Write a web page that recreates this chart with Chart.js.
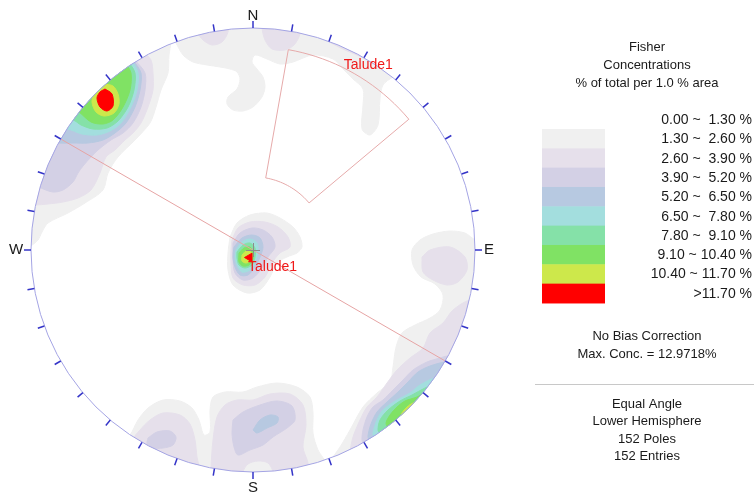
<!DOCTYPE html>
<html>
<head>
<meta charset="utf-8">
<title>Fisher Concentrations</title>
<script src="https://cdn.jsdelivr.net/npm/chart.js@4.4.1/dist/chart.umd.min.js"></script>
<style>
  html, body { margin: 0; padding: 0; background: #ffffff; }
  canvas { display: block; }
</style>
</head>
<body>
<canvas id="stereonet" width="754" height="493"></canvas>
<script>
// Contour classes, % of total per 1.0 % area
const class_labels = [
  "0.00 ~  1.30 %", "1.30 ~  2.60 %", "2.60 ~  3.90 %", "3.90 ~  5.20 %", "5.20 ~  6.50 %",
  "6.50 ~  7.80 %", "7.80 ~  9.10 %", "9.10 ~ 10.40 %", "10.40 ~ 11.70 %", ">11.70 %",
];
const class_colors = ["#f0f0f0", "#e6e0eb", "#d3d0e5", "#b7c9e1", "#a3dede", "#85e1a8", "#80e264", "#cde84b", "#ff0000"];

const summary_lines = ["No Bias Correction", "Max. Conc. = 12.9718%"];
const projection_lines = ["Equal Angle", "Lower Hemisphere", "152 Poles", "152 Entries"];

// Contour outlines in net units (primitive circle radius 222, x = east, y = north).
// Parts lying outside the primitive are clipped away.
const level_1 = [
  [[-82,230],[-82,208],[-84,195],[-85,177],[-92,160],[-97,143],[-103,127],[-118,110],[-135,93],[-145,77],[-150,60],[-168,47],[-185,37],[-205,27],[-211,18],[-215,10],[-223,4],[-238,4],[-238,210],[-153,235]],
  [[-81,235],[-81,214],[-77,207],[-70,195],[-60,188],[-46,185],[-33,183],[-23,181],[-16,178],[-13,171],[-16,161],[-25,153],[-26,146],[-20,140],[-10,139],[0,143],[9,153],[12,163],[10,173],[4,181],[-1,188],[2,195],[14,191],[27,186],[40,188],[60,195],[80,191],[90,181],[100,171],[110,161],[110,145],[109,121],[117,115],[125,125],[127,151],[130,165],[140,173],[145,175],[167,210],[0,245]],
  [[-23,13],[-16,27],[-3,35],[14,37],[27,32],[40,23],[47,13],[49,3],[44,-3],[34,-7],[24,-13],[17,-27],[7,-40],[-6,-43],[-20,-35],[-25,-20],[-25,-3]],
  [[-128,-188],[-123,-185],[-115,-170],[-105,-158],[-90,-150],[-73,-151],[-61,-158],[-54,-170],[-49,-185],[-43,-182],[-43,-160],[-40,-147],[-28,-142],[-10,-142],[4,-137],[24,-133],[44,-137],[57,-147],[60,-163],[60,-183],[65,-200],[72,-212],[72,-235],[-125,-235]],
  [[77,-240],[77,-212],[80,-207],[87,-197],[97,-180],[110,-157],[124,-143],[137,-132],[140,-117],[143,-97],[149,-83],[162,-75],[177,-68],[187,-60],[190,-45],[182,-34],[168,-27],[160,-15],[159,0],[167,10],[180,16],[197,19],[212,17],[223,10],[242,10],[242,-240]],
];
const level_2 = [
  [[-112,215],[-110,200],[-102,190],[-100,177],[-100,160],[-105,143],[-112,127],[-120,117],[-128,110],[-138,100],[-147,93],[-153,77],[-162,60],[-175,52],[-190,48],[-205,46],[-218,45],[-233,45],[-233,190]],
  [[-55,228],[-55,217],[-50,210],[-41,205],[-31,208],[-25,218],[-25,230]],
  [[9,232],[9,222],[12,210],[19,201],[32,200],[41,205],[47,216],[47,230]],
  [[77,230],[75,210],[82,205],[92,200],[104,195],[115,190],[120,188],[127,210]],
  [[-21,10],[-15,22],[-3,28],[12,28],[25,23],[35,13],[37,3],[27,-3],[19,-13],[12,-27],[2,-35],[-10,-35],[-20,-28],[-22,-13],[-22,0]],
  [[-120,-235],[-120,-190],[-113,-180],[-103,-170],[-90,-163],[-73,-165],[-63,-174],[-58,-190],[-56,-207],[-54,-217],[-54,-235]],
  [[-42,-235],[-42,-218],[-40,-190],[-36,-167],[-28,-155],[-16,-150],[0,-150],[17,-144],[37,-144],[50,-155],[53,-175],[50,-197],[55,-213],[57,-235],[20,-235],[20,-222],[15,-213],[5,-211],[-5,-214],[-10,-222],[-10,-235]],
  [[169,-7],[177,0],[197,3],[212,-7],[214,-20],[205,-32],[194,-35],[180,-30],[170,-22]],
  [[242,-50],[217,-50],[200,-60],[190,-73],[177,-83],[170,-98],[157,-108],[144,-120],[134,-133],[124,-147],[114,-157],[107,-170],[100,-187],[97,-202],[92,-240],[242,-240]],
];
const level_3 = [
  [[-133,210],[-118,190],[-108,177],[-108,160],[-112,143],[-120,127],[-130,117],[-142,110],[-155,100],[-162,93],[-170,84],[-175,77],[-180,68],[-190,60],[-200,58],[-212,62],[-228,70],[-228,180]],
  [[-20,7],[-13,17],[-1,22],[10,20],[19,13],[22,3],[15,-7],[9,-18],[0,-28],[-10,-30],[-18,-23],[-20,-10]],
  [[-105,-188],[-96,-182],[-83,-181],[-77,-187],[-80,-195],[-90,-198],[-101,-198],[-106,-194]],
  [[-20,-170],[-10,-162],[7,-155],[24,-151],[39,-156],[42,-170],[34,-178],[20,-187],[10,-195],[-3,-200],[-15,-205],[-19,-197],[-21,-183]],
  [[242,-106],[195,-106],[187,-108],[174,-112],[160,-120],[150,-130],[140,-140],[130,-150],[120,-157],[114,-167],[110,-180],[109,-190],[111,-196],[107,-240],[242,-240]],
];
const level_4 = [
  [[-133,210],[-120,190],[-112,177],[-113,160],[-118,143],[-127,127],[-138,117],[-150,110],[-165,107],[-180,107],[-194,107],[-213,110],[-213,170]],
  [[-19,3],[-11,12],[-1,15],[7,12],[10,3],[7,-7],[2,-17],[-5,-25],[-13,-25],[-18,-17],[-20,-7]],
  [[0,-180],[7,-170],[17,-165],[25,-167],[24,-173],[14,-178],[4,-183]],
  [[242,-112],[193,-112],[177,-116],[165,-122],[155,-132],[145,-142],[134,-152],[124,-162],[118,-174],[115,-186],[116,-192],[112,-240],[242,-240]],
];
const level_5 = [
  [[-138,205],[-122,190],[-115,177],[-116,160],[-122,143],[-132,127],[-143,119],[-156,115],[-171,116],[-186,121],[-208,120],[-208,170]],
  [[-17,0],[-11,8],[-3,11],[4,7],[5,-2],[2,-12],[-3,-20],[-11,-22],[-16,-15],[-18,-7]],
  [[242,-128],[183,-128],[167,-135],[157,-143],[144,-150],[130,-160],[124,-170],[120,-183],[121,-189],[117,-240],[242,-240]],
];
const level_6 = [
  [[-143,200],[-125,188],[-118,177],[-119,160],[-125,143],[-135,129],[-146,122],[-160,121],[-172,125],[-180,130],[-198,130],[-193,180]],
  [[-16,-2],[-10,5],[-3,7],[2,2],[2,-7],[-1,-15],[-8,-18],[-14,-15],[-16,-8]],
  [[242,-136],[178,-136],[172,-138],[159,-145],[147,-151],[135,-160],[127,-170],[125,-180],[127,-184],[122,-240],[242,-240]],
];
const level_7 = [
  [[-153,195],[-128,186],[-122,177],[-123,160],[-130,143],[-140,130],[-150,126],[-162,128],[-174,138],[-193,150]],
  [[-14,-3],[-9,2],[-3,3],[0,-2],[0,-9],[-4,-15],[-10,-16],[-14,-12]],
  [[242,-143],[172,-143],[164,-147],[152,-151],[144,-157],[137,-165],[133,-173],[135,-179],[132,-240],[242,-240]],
];
const level_8 = [
  [[-149,166],[-140,164],[-135,156],[-134,146],[-139,137],[-149,134],[-157,138],[-161,148],[-158,159]],
  [[-11,-5],[-7,-1],[-3,-1],[-1,-5],[-3,-11],[-7,-13],[-11,-11]],
  [[242,-153],[164,-153],[160,-153],[154,-157],[149,-163],[148,-167],[147,-240],[242,-240]],
];
const level_9 = [
  [[-148,161],[-141,156],[-140,144],[-146,139],[-153,143],[-156,152],[-153,158]],
];

// Talude1: vertical slope plane, its pole and the planar sliding window
const talude_name = "Talude1";
const talude_strike = 300;
const talude_pole = { x: -3.5, y: -7.5 };
const window_azimuth = [10, 50];
const window_dip = [36.5, 85];

const NET_RADIUS = 222;
const chart_w = 754, chart_h = 493;
const net_cx = 253, net_cy = 250; // pixel position of the net centre
const FONT = '"Liberation Sans", Arial, sans-serif';

function show_error(e) {
  console.error(e);
}

// equal angle projection of a line at `dip` from vertical, trending `az`
function project(az, dip) {
  const r = NET_RADIUS * Math.tan((dip * Math.PI) / 360);
  const a = (az * Math.PI) / 180;
  return { x: r * Math.sin(a), y: r * Math.cos(a) };
}

function window_outline() {
  const pts = [];
  for (let az = window_azimuth[0]; az <= window_azimuth[1]; az += 2) pts.push(project(az, window_dip[1]));
  for (let az = window_azimuth[1]; az >= window_azimuth[0]; az -= 2) pts.push(project(az, window_dip[0]));
  pts.push(pts[0]);
  return pts;
}

function net_geometry(chart) {
  const xs = chart.scales.x, ys = chart.scales.y;
  const x = xs.getPixelForValue(0), y = ys.getPixelForValue(0);
  return { x, y, r: xs.getPixelForValue(NET_RADIUS) - x, xs, ys };
}

const stereonet_frame = {
  id: "stereonet_frame",
  beforeDatasetsDraw(chart) {
    const { ctx } = chart;
    const c = net_geometry(chart);
    ctx.save();
    ctx.beginPath();
    ctx.arc(c.x, c.y, c.r, 0, Math.PI * 2);
    ctx.clip();
  },
  afterDatasetsDraw(chart) {
    const { ctx } = chart;
    ctx.restore();
    const c = net_geometry(chart);

    // primitive circle
    ctx.save();
    ctx.strokeStyle = "#a4a4e4";
    ctx.lineWidth = 1;
    ctx.beginPath();
    ctx.arc(c.x, c.y, c.r, 0, Math.PI * 2);
    ctx.stroke();

    // 10 degree ticks
    ctx.strokeStyle = "#3434c8";
    ctx.lineWidth = 1.5;
    for (let az = 0; az < 360; az += 10) {
      const a = (az * Math.PI) / 180;
      ctx.beginPath();
      ctx.moveTo(c.x + c.r * Math.sin(a), c.y - c.r * Math.cos(a));
      ctx.lineTo(c.x + (c.r + 7) * Math.sin(a), c.y - (c.r + 7) * Math.cos(a));
      ctx.stroke();
    }

    // centre cross
    ctx.strokeStyle = "#8c8c8c";
    ctx.lineWidth = 1;
    ctx.beginPath();
    ctx.moveTo(c.x - 7, c.y + 0.5);
    ctx.lineTo(c.x + 7, c.y + 0.5);
    ctx.moveTo(c.x + 0.5, c.y - 7);
    ctx.lineTo(c.x + 0.5, c.y + 7);
    ctx.stroke();

    // cardinal points
    ctx.fillStyle = "#1a1a1a";
    ctx.font = "15px " + FONT;
    ctx.textAlign = "center";
    ctx.textBaseline = "middle";
    ctx.fillText("N", c.x, c.y - c.r - 12);
    ctx.fillText("E", c.x + c.r + 14, c.y);
    ctx.fillText("S", c.x, c.y + c.r + 16);
    ctx.fillText("W", c.x - c.r - 15, c.y);

    // plane labels
    ctx.fillStyle = "#f01818";
    ctx.font = "14px " + FONT;
    ctx.textAlign = "left";
    ctx.fillText(talude_name, c.xs.getPixelForValue(talude_pole.x - 1.5), c.ys.getPixelForValue(talude_pole.y - 9.5));
    const w = project((window_azimuth[0] + window_azimuth[1]) / 2 + 2, window_dip[1]);
    ctx.fillText(talude_name, c.xs.getPixelForValue(w.x - 17), c.ys.getPixelForValue(w.y + 12));
    ctx.restore();
  },
  afterDraw(chart) {
    const { ctx } = chart;
    const lx = 647;
    ctx.save();
    ctx.fillStyle = "#1a1a1a";
    ctx.textBaseline = "middle";
    ctx.textAlign = "center";
    ctx.font = "13px " + FONT;
    ["Fisher", "Concentrations", "% of total per 1.0 % area"].forEach((t, i) => ctx.fillText(t, lx, 47 + i * 18));

    const step = 19.33;
    ctx.font = "14px " + FONT;
    ctx.textAlign = "right";
    class_labels.forEach((t, i) => ctx.fillText(t, 752, 120 + i * step));
    class_colors.forEach((col, k) => {
      ctx.fillStyle = col;
      ctx.fillRect(542, 129 + k * step, 63, step + 0.5);
    });

    ctx.fillStyle = "#1a1a1a";
    ctx.font = "13px " + FONT;
    ctx.textAlign = "center";
    summary_lines.forEach((t, i) => ctx.fillText(t, lx, 336 + i * 18));
    ctx.strokeStyle = "#c8c8c8";
    ctx.lineWidth = 1;
    ctx.beginPath();
    ctx.moveTo(535, 384.5);
    ctx.lineTo(754, 384.5);
    ctx.stroke();
    projection_lines.forEach((t, i) => ctx.fillText(t, lx, 404 + i * 17.5));
    ctx.restore();
  },
};

document.addEventListener("DOMContentLoaded", function () {
  try {
    const datasets = [];
    const levels = [level_1, level_2, level_3, level_4, level_5, level_6, level_7, level_8, level_9];
    levels.forEach(function (polys, k) {
      polys.forEach(function (poly) {
        datasets.push({
          data: poly.concat([poly[0]]).map(([x, y]) => ({ x, y })),
          backgroundColor: class_colors[k],
          borderColor: class_colors[k],
          borderWidth: 1,
          fill: "shape",
          tension: 0.3,
          pointRadius: 0,
        });
      });
    });

    // slope plane, vertical so its great circle is a diameter
    const s = (talude_strike * Math.PI) / 180;
    datasets.push({
      data: [
        { x: NET_RADIUS * Math.sin(s), y: NET_RADIUS * Math.cos(s) },
        { x: -NET_RADIUS * Math.sin(s), y: -NET_RADIUS * Math.cos(s) },
      ],
      borderColor: "#e6a4a4",
      borderWidth: 1,
      fill: false,
      pointRadius: 0,
    });
    datasets.push({
      data: window_outline(),
      borderColor: "#e6aaaa",
      borderWidth: 1,
      fill: false,
      pointRadius: 0,
    });
    datasets.push({
      data: [talude_pole],
      showLine: false,
      pointStyle: "triangle",
      rotation: -90,
      pointRadius: 5,
      backgroundColor: "#ff0000",
      borderColor: "#ff0000",
      borderWidth: 1,
    });
    datasets.forEach((d, i) => (d.order = -i));

    new Chart(document.getElementById("stereonet"), {
      type: "line",
      data: { datasets: datasets },
      options: {
        responsive: false,
        animation: false,
        events: [],
        layout: { padding: 0, autoPadding: false },
        plugins: { legend: { display: false }, tooltip: { enabled: false } },
        scales: {
          x: { type: "linear", display: false, min: -net_cx, max: chart_w - net_cx },
          y: { type: "linear", display: false, min: net_cy - chart_h, max: net_cy },
        },
      },
      plugins: [stereonet_frame],
    });
  } catch (e) {
    show_error(e);
  }
});
</script>
</body>
</html>
